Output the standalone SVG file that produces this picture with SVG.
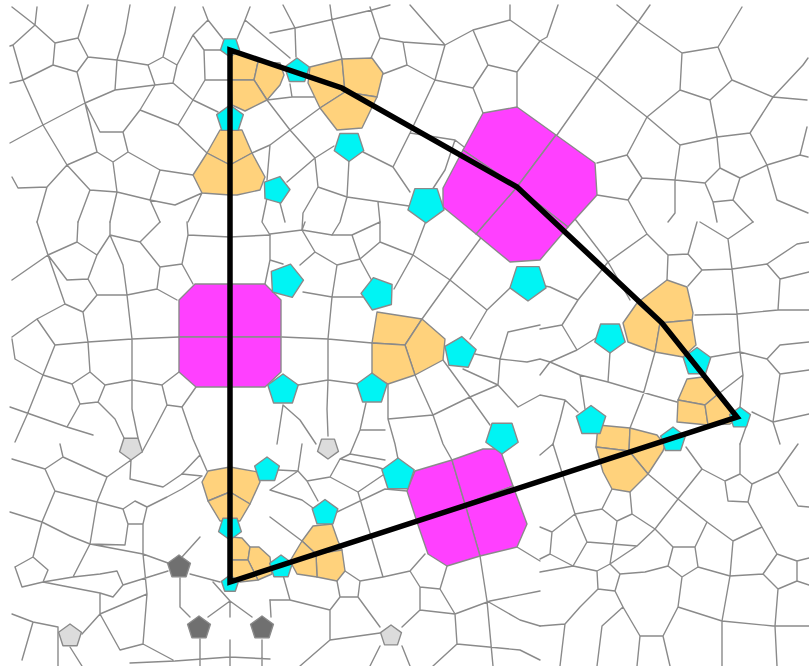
<svg xmlns="http://www.w3.org/2000/svg" xmlns:xlink="http://www.w3.org/1999/xlink" width="809" height="666" viewBox="0 0 809 666">
<style>
.mesh{fill:none;stroke:#8a8a8a;stroke-width:1.4;stroke-linejoin:round;stroke-linecap:round}
.c{stroke:#8a8a8a;stroke-width:1.4;stroke-linejoin:round}
.o{fill:#ffd27c}
.m{fill:#ff40ff}
.cy{fill:#00f4f4}
.dg{fill:#707070}
.lg{fill:#dcdcdc}
.frame{fill:none;stroke:#000;stroke-width:5.5;stroke-linejoin:miter}
</style>
<defs>
<path id="pent" d="M0,-1 L0.951,-0.309 L0.588,0.809 L-0.588,0.809 L-0.951,-0.309Z" vector-effect="non-scaling-stroke"/>
</defs>
<rect width="809" height="666" fill="#fff"/>
<g id="mesh" class="mesh">
<path d="M12,7 L35,25 L13,45 L10,46 M35,25 L37,7 M35,25 L55,43 M55,43 L78,38 L88,57 L77,72 L53,65 Z M78,38 L88,5 M88,57 L117,60 L148,65 M53,65 L23,80 L10,83 M13,45 L23,80 M23,80 L43,125 L10,143 M43,125 L85,103 L77,72 M85,103 L115,90 L117,60 L125,33 L130,5 M148,65 L163,57 L177,65 L173,83 L155,85 Z M115,90 L155,85 M85,103 L100,132 L123,132 L128,152 L113,162 L97,152 Z M97,152 L67,165 L43,125 M67,165 L47,187 L18,188 L12,177 M155,85 L140,110 L123,132 M163,57 L175,7 M177,65 L193,35 L208,20 L203,7 M193,35 L204,50 L221,50 M208,20 L223,39 M237,39 L245,20 L250,7 M245,20 L290,58 M173,83 L193,100 L218,112 M193,100 L205,80 L231,80 M205,80 L204,50 M140,110 L178,125 L207,153 M178,125 L193,100 M113,162 L117,192 L90,190 L67,165 M90,190 L78,222 M47,187 L37,222 M117,192 L110,222 M128,152 L160,170 L193,175 M160,170 L150,200 L117,192 M150,200 L160,222 M202,193 L188,222 M150,200 L175,205 L202,193"/>
<path d="M270,33 L295,28 L330,20 L372,10 L390,5 M283,5 L295,28 L296,57 M330,5 L332,20 L342,59 M370,7 L380,38 L371,58 M380,38 L403,42 L407,65 L383,74 M410,5 L445,45 M403,42 L445,45 L473,30 L510,20 L510,5 M473,30 L488,65 L517,72 L517,107 M407,65 L435,80 L473,88 L488,65 M435,80 L445,45 M473,88 L483,113 M435,80 L410,133 L393,167 M510,20 L540,41 M517,72 L540,41 L547,37 L558,5 M267,100 L290,130 L320,108 M290,84 L292,97 L267,100 M292,97 L314,97 M252,153 L270,145 L290,130 M270,145 L267,180 M290,130 L315,158 M334,146 L315,158 L287,182 M315,158 L318,187 L347,197 M349,160 L347,197 M347,197 L409,206 M363,152 L393,167 L410,192 M318,187 L303,213 L302,230 M347,197 L340,222 L332,235 M410,133 L455,140 L468,150 M432,190 L445,170 L455,140 M280,203 L285,222 M267,198 L262,222 L270,235 M380,222 L378,202"/>
<path d="M540,41 L597,78 L647,117 L680,145 M617,5 L638,22 L682,53 M650,5 L638,22 L597,78 L557,135 M682,53 L718,47 L732,80 L710,100 L680,90 Z M718,47 L742,7 M680,90 L647,117 M732,80 L773,97 L803,65 M773,97 L750,133 L717,137 L680,145 M710,100 L717,137 L720,168 M750,133 L767,165 L800,155 L807,127 M767,165 L740,178 L720,168 M720,168 L705,183 L713,202 L733,200 L740,178 M680,145 L675,180 L705,183 M675,180 L642,178 L627,155 L597,163 M627,155 L647,117 M642,178 L628,200 L597,195 M628,200 L640,222 M675,180 L675,213 L668,222 M713,202 L717,222 M733,200 L753,222 M767,165 L777,200 L808,213 M800,155 L808,157 M803,65 L808,58 M773,97 L807,100"/>
<path d="M37,222 L48,255 L77,242 L97,255 M48,255 L12,280 M48,255 L67,280 L88,279 L97,295 L83,312 L65,304 Z M77,242 L78,222 M97,255 L110,235 L123,265 M110,235 L110,222 M97,255 L88,279 M97,295 L127,295 L157,289 L177,300 M127,295 L123,265 M157,289 L160,267 L182,264 L193,284 M110,235 L140,242 L160,267 M140,242 L160,222 M182,264 L188,235 L187,222 M188,235 L230,237 L270,235 M12,337 L37,319 L55,345 L88,342 L132,339 L179,337 M37,319 L65,304 M83,312 L88,342 L90,372 M127,295 L132,339 L132,380 L132,409 L138,438 M72,384 L80,404 L98,402 L105,385 L90,372 Z M105,385 L132,380 L162,385 L179,372 M162,385 L167,405 L182,407 L196,387 M55,345 L43,375 L72,384 M43,375 L27,415 L15,442 M10,407 L67,427 L93,435 M80,404 L67,427 M12,339 L15,359 L43,375 M98,402 L115,419 L124,438 M167,405 L155,428 L142,452 M182,407 L193,439 L200,455 L207,471 M182,474 L200,455 M265,284 L270,260 L270,235 M270,260 L283,264"/>
<path d="M270,234 L302,230 L332,235 L352,235 L380,222 M302,230 L305,222 M302,230 L315,252 L337,265 L360,259 L380,242 L380,222 M315,252 L300,265 M352,235 L360,259 M380,242 L413,255 L450,280 L480,239 L483,235 M413,255 L394,289 M413,255 L426,221 M360,259 L372,281 M337,265 L332,297 M303,292 L332,297 L363,297 M332,297 L328,339 L328,380 L327,409 L328,436 M282,337 L328,339 L372,343 M298,385 L328,380 L358,384 M450,280 L422,319 M450,280 L487,310 L510,288 M487,310 L470,339 M475,354 L500,359 L527,362 L540,359 L550,362 M500,359 L508,332 L540,325 M500,359 L498,385 L463,369 M498,385 L518,407 L540,395 L565,400 L578,412 M553,444 L560,420 L565,400 M498,385 L470,397 L443,360 M470,397 L490,425 M470,397 L433,415 M415,375 L433,415 L443,444 L452,460 M388,384 L388,419 L395,444 L398,459 M388,419 L433,415 M283,405 L277,444 M283,405 L300,420 L316,444 M366,403 L360,430 L350,454 M360,430 L385,430"/>
<path d="M640,222 L647,234 L668,255 L667,280 M647,234 L608,262 L578,300 L550,287 L540,285 M575,219 L608,262 M668,255 L688,254 L702,270 L688,286 M688,254 L697,222 M702,270 L732,269 L767,264 L797,244 L809,242 M732,269 L728,239 L753,222 M728,239 L700,222 M767,264 L780,279 L778,310 L809,310 M695,315 L737,314 L778,310 M737,314 L732,269 M737,314 L740,352 L743,375 M711,357 L740,352 L767,359 L780,345 L809,342 M780,279 L809,272 M767,359 L780,374 L809,370 M578,300 L562,325 L540,329 M562,325 L577,350 L550,362 M577,350 L596,338 M610,352 L608,382 L580,375 M608,382 L652,395 L677,402 M655,352 L643,395 L630,428 M550,362 L580,375 L585,409 M540,375 L550,362 M608,262 L630,300 M743,375 L740,407 M752,412 L773,422 L780,444 M773,422 L809,414 M747,424 L740,444 M780,374 L773,422 M717,395 L743,375"/>
<path d="M12,459 L45,469 L63,457 L60,444 M45,469 L55,491 L97,502 L123,509 M63,457 L107,477 L131,460 M107,477 L97,502 M131,460 L130,479 L163,487 L182,474 M123,509 L135,501 L147,507 L143,524 L128,524 Z M147,507 L167,497 L182,489 M10,512 L42,522 L70,536 L90,544 L143,554 M42,522 L55,491 M42,522 L33,557 L15,567 M97,502 L90,544 L73,577 M15,567 L22,587 L43,582 L48,570 L33,557 M43,582 L73,577 L100,574 L117,571 L123,585 L113,597 L100,593 Z M143,524 L143,554 L147,594 M143,554 L168,563 M12,614 L33,622 L58,627 M33,622 L22,660 M82,634 L100,614 L147,594 M100,614 L100,593 M100,614 L120,650 L143,644 L173,660 M143,644 L147,594 M180,578 L180,607 L190,617 M190,574 L220,582 M182,489 L202,476 M182,474 L202,476 M200,537 L182,557 M128,524 L125,545 L90,544 M213,582 L230,601 L230,617 M230,601 L208,617 M230,601 L252,617 M200,639 L200,666 M130,663 L175,661 L230,657 L270,659 M230,640 L230,666 M262,640 L262,666 M123,585 L168,571 M270,600 L271,617 M58,627 L58,666 M70,647 L82,666"/>
<path d="M302,444 L298,471 L307,481 L330,477 L340,459 L350,454 M307,481 L318,501 M330,477 L358,492 L383,475 M340,459 L377,467 L383,469 M358,492 L383,577 M337,512 L385,489 L407,491 M270,517 L302,541 M345,571 L360,581 L383,577 L410,571 L425,554 M337,581 L340,597 L358,597 L360,581 M410,571 L420,587 L440,589 L447,566 M440,589 L455,614 L490,601 L540,591 M480,556 L487,601 L493,666 M455,614 L457,644 L433,666 M517,547 L540,561 M358,597 L380,627 M402,627 L420,610 L420,587 M278,470 L298,471 M270,490 L302,500 L313,508 M350,454 L385,460 M298,471 L270,490 M283,575 L290,600 L270,600 M290,600 L330,610 L340,597 M330,610 L330,640 L300,666 M330,640 L380,633 M380,646 L370,666 M402,646 L410,666 M420,610 L455,614 M457,644 L520,650 L540,660 M487,601 L520,620 L540,626"/>
<path d="M553,444 L575,514 L552,532 L540,527 M575,514 L602,509 L612,489 M602,509 L617,521 L632,514 L630,492 M617,521 L610,564 M632,514 L655,529 L673,547 M655,529 L678,499 L702,469 L686,447 M648,474 L678,499 M678,499 L707,522 L733,541 M702,469 L725,481 L728,501 L748,502 L752,484 L740,474 L725,481 M740,474 L740,444 M752,484 L778,472 L798,444 M778,472 L798,506 L809,507 M748,502 L762,527 L733,541 M762,527 L777,554 L797,561 L809,558 M733,541 L730,576 L722,621 L722,666 M777,554 L763,574 L778,589 L797,581 L797,561 M763,574 L730,576 M778,589 L775,626 L777,666 M673,547 L668,566 L682,577 L698,567 L695,547 Z M695,547 L707,522 M698,567 L730,576 M682,577 L678,607 L663,636 L640,636 L623,607 M678,607 L722,621 M668,566 L645,572 L620,574 M610,564 L597,571 L598,589 L615,591 L620,574 Z M637,546 L610,564 M587,542 L637,546 L655,529 M587,542 L573,566 L540,572 M552,532 L550,554 L540,559 M550,554 L573,566 M573,566 L597,571 M598,589 L580,607 L565,624 L540,626 M615,591 L623,607 M623,607 L602,626 L597,666 M640,636 L637,666 M663,636 L670,666 M722,621 L773,626 L809,626 M575,514 L587,542 M553,444 L540,455 M565,624 L560,666 M797,581 L809,585"/>
</g>
<g id="cells">
<g id="orange-a" class="o c"><polygon points="231,56 239,51 258,62 254,80 231,80"/><polygon points="258,62 280,63 284,75 280,85 267,100 254,80"/><polygon points="231,80 254,80 267,100 245,111 232,105"/></g>
<g id="orange-b" class="o c"><polygon points="310,67 342,59 345,92 320,108 308,83"/><polygon points="342,59 372,58 383,73 377,97 345,92"/><polygon points="345,92 377,97 362,128 337,130 320,108"/></g>
<g id="orange-c" class="o c"><polygon points="220,130 242,130 252,153 230,165 207,153"/><polygon points="207,153 230,165 230,195 202,193 193,175"/><polygon points="230,165 252,153 265,177 260,190 237,195 230,195"/></g>
<g id="orange-g" class="o c"><polygon points="377,312 422,319 405,345 372,343"/><polygon points="422,319 445,339 443,360 415,375 405,345"/><polygon points="372,343 405,345 415,375 388,384 372,375"/></g>
<g id="orange-h" class="o c"><polygon points="637,303 667,280 687,287 693,313 692,320 660,323"/><polygon points="623,323 637,303 660,323 655,352 628,342"/><polygon points="660,323 692,320 696,345 683,357 655,352"/></g>
<g id="orange-i" class="o c"><polygon points="687,379 703,377 717,395 705,405 678,400"/><polygon points="678,400 705,405 708,425 677,422"/><polygon points="705,405 717,395 737,419 730,424 708,425"/></g>
<g id="orange-j" class="o c"><polygon points="598,425 630,428 629,451 596,447"/><polygon points="630,428 657,435 665,445 663,451 648,474 629,451"/><polygon points="596,447 629,451 648,474 630,492 612,489 603,472"/></g>
<g id="orange-k" class="o c"><polygon points="208,471 230,467 258,472 260,482 250,504 230,492 208,501 202,482"/><polygon points="208,501 230,492 250,504 240,521 220,521"/></g>
<g id="orange-l" class="o c"><polygon points="232,537 242,538 250,547 248,560 232,560"/><polygon points="250,547 259,547 270,557 272,574 258,580 248,560"/><polygon points="232,560 248,560 258,580 240,582 232,578"/></g>
<g id="orange-m" class="o c"><polygon points="302,541 313,526 332,524 338,541 342,550 316,554"/><polygon points="316,554 342,550 345,571 337,581 317,577"/><polygon points="290,561 302,541 316,554 317,577 297,574"/></g>
<g id="magenta-d" class="m c"><polygon points="483,113 517,107 556,135 517,187 463,150"/><polygon points="556,135 595,163 597,195 568,227 517,187"/><polygon points="517,187 568,227 540,260 510,262 476,234"/><polygon points="463,150 517,187 476,234 443,207 443,188"/></g>
<g id="magenta-e" class="m c"><polygon points="195,284 230,284 230,337 179,337 179,300"/><polygon points="230,284 265,284 281,300 281,337 230,337"/><polygon points="179,337 230,337 230,387 196,387 179,372"/><polygon points="230,337 281,337 281,372 265,387 230,387"/></g>
<g id="magenta-f" class="m c"><polygon points="415,471 452,460 465,504 417,522 407,491"/><polygon points="452,460 483,449 500,449 513,486 465,504"/><polygon points="465,504 513,486 527,524 517,547 480,556"/><polygon points="417,522 465,504 480,556 447,566 428,554"/></g>
<g id="cyan" class="cy c">
<use xlink:href="#pent" transform="translate(230,47) rotate(180) scale(10)"/>
<use xlink:href="#pent" transform="translate(297,71) scale(13)"/>
<use xlink:href="#pent" transform="translate(230,119) scale(14)"/>
<use xlink:href="#pent" transform="translate(349,146) rotate(180) scale(15.5)"/>
<use xlink:href="#pent" transform="translate(276,190) rotate(160) scale(14)"/>
<use xlink:href="#pent" transform="translate(426,204) rotate(180) scale(19)"/>
<use xlink:href="#pent" transform="translate(528,282) rotate(180) scale(19)"/>
<use xlink:href="#pent" transform="translate(286,281) rotate(15) scale(17.5)"/>
<use xlink:href="#pent" transform="translate(378,294) rotate(200) scale(17)"/>
<use xlink:href="#pent" transform="translate(460,353) rotate(150) scale(16.5)"/>
<use xlink:href="#pent" transform="translate(283,390) scale(16)"/>
<use xlink:href="#pent" transform="translate(372,389) scale(16)"/>
<use xlink:href="#pent" transform="translate(610,337) rotate(180) scale(16)"/>
<use xlink:href="#pent" transform="translate(697,362) scale(14.5)"/>
<use xlink:href="#pent" transform="translate(591,421) scale(15.5)"/>
<use xlink:href="#pent" transform="translate(502,437) rotate(180) scale(17)"/>
<use xlink:href="#pent" transform="translate(398,475) scale(17)"/>
<use xlink:href="#pent" transform="translate(267,470) scale(13)"/>
<use xlink:href="#pent" transform="translate(325,513) scale(13.5)"/>
<use xlink:href="#pent" transform="translate(230,528) rotate(180) scale(12)"/>
<use xlink:href="#pent" transform="translate(281,567) scale(12)"/>
<use xlink:href="#pent" transform="translate(230,584) scale(9)"/>
<use xlink:href="#pent" transform="translate(740,418) scale(11)"/>
<use xlink:href="#pent" transform="translate(673,440) scale(13)"/>
</g>
<g id="grey" class="c">
<use class="dg" xlink:href="#pent" transform="translate(179,567) scale(12)"/>
<use class="dg" xlink:href="#pent" transform="translate(199,628) scale(12)"/>
<use class="dg" xlink:href="#pent" transform="translate(262,628) scale(12)"/>
<use class="lg" xlink:href="#pent" transform="translate(131,448) rotate(180) scale(12)"/>
<use class="lg" xlink:href="#pent" transform="translate(328,448) rotate(180) scale(11)"/>
<use class="lg" xlink:href="#pent" transform="translate(70,636) scale(12)"/>
<use class="lg" xlink:href="#pent" transform="translate(391,636) scale(11)"/>
</g>
</g>
<g id="frame"><path class="frame" d="M230,50 L342,88 L517,187 L662,323 L737,417 L230,582 Z"/></g>
</svg>
